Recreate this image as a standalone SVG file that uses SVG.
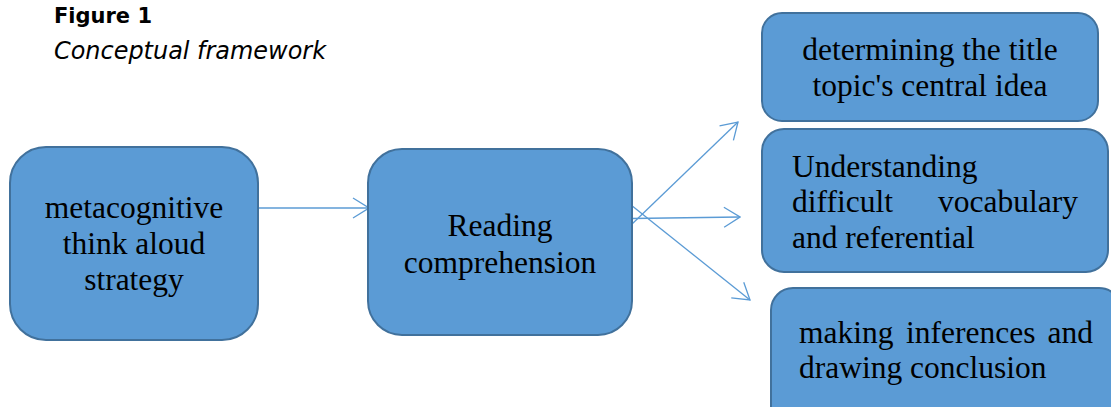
<svg xmlns="http://www.w3.org/2000/svg" width="1111" height="407" viewBox="0 0 1111 407">
<style>
.box{fill:#5B9BD5;stroke:#41719C;stroke-width:2}
.t{font-family:"Liberation Serif","Times New Roman",serif;font-size:31.5px;fill:#000}
.c{text-anchor:middle}
.e{text-anchor:end}
.conn{stroke:#5B9BD5;stroke-width:1.3;fill:none}
.cap{font-family:"DejaVu Sans",Verdana,sans-serif;fill:#000}
</style>
<defs>
<marker id="arr" viewBox="0 0 18 22" refX="17" refY="11" markerWidth="18" markerHeight="22" markerUnits="userSpaceOnUse" orient="auto">
<path d="M1,1 L17,11 L1,21" fill="none" stroke="#5B9BD5" stroke-width="1.3"/>
</marker>
</defs>
<rect width="1111" height="407" fill="#fff"/>
<g id="caption">
<text class="cap" x="54" y="23" font-size="22" font-weight="bold" textLength="98" lengthAdjust="spacingAndGlyphs">Figure 1</text>
<text class="cap" x="54" y="58.5" font-size="24" font-style="italic" textLength="272" lengthAdjust="spacingAndGlyphs">Conceptual framework</text>
</g>
<g id="connectors">
<line class="conn" x1="258" y1="208" x2="369" y2="208" marker-end="url(#arr)"/>
<line class="conn" x1="631" y1="225" x2="738" y2="122" marker-end="url(#arr)"/>
<line class="conn" x1="631" y1="218.5" x2="740" y2="217" marker-end="url(#arr)"/>
<line class="conn" x1="631" y1="205" x2="750" y2="300" marker-end="url(#arr)"/>
</g>
<g id="node-metacognitive">
<rect class="box" x="10" y="147" width="248" height="193" rx="36"/>
<text class="t c" x="134" y="218">metacognitive</text>
<text class="t c" x="134" y="254">think aloud</text>
<text class="t c" x="134" y="290">strategy</text>
</g>
<g id="node-reading">
<rect class="box" x="368" y="149" width="264" height="186" rx="34"/>
<text class="t c" x="500" y="236">Reading</text>
<text class="t c" x="500" y="273">comprehension</text>
</g>
<g id="node-title">
<rect class="box" x="762" y="13" width="336" height="108" rx="20"/>
<text class="t c" x="930" y="60">determining the title</text>
<text class="t c" x="930" y="96">topic's central idea</text>
</g>
<g id="node-vocabulary">
<rect class="box" x="762" y="129" width="346" height="143" rx="22"/>
<text class="t" x="792" y="177">Understanding</text>
<text class="t" x="792" y="212">difficult</text>
<text class="t e" x="1078" y="212">vocabulary</text>
<text class="t" x="792" y="248">and referential</text>
</g>
<g id="node-inferences">
<rect class="box" x="771" y="288" width="350" height="140" rx="22"/>
<text class="t" x="799" y="343">making</text>
<text class="t" x="906" y="343">inferences</text>
<text class="t e" x="1093" y="343">and</text>
<text class="t" x="799" y="378">drawing conclusion</text>
</g>
</svg>
